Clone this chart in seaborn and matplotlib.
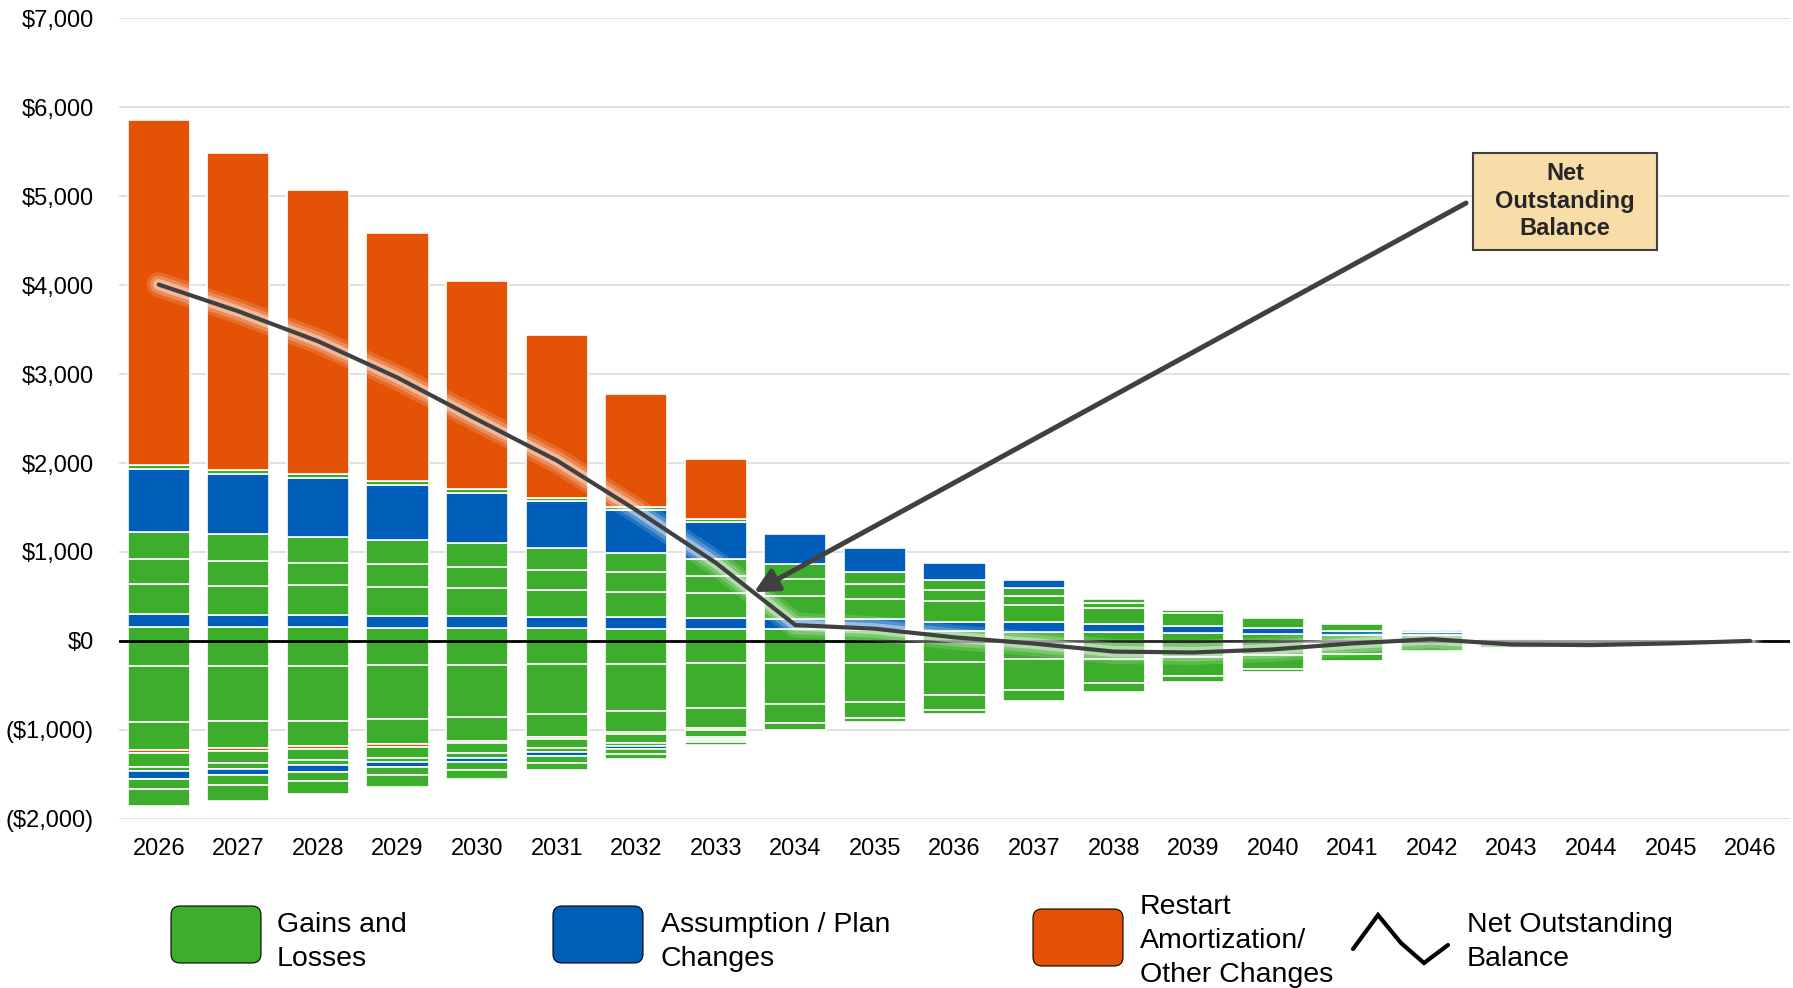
import numpy as np
import matplotlib
matplotlib.use("Agg")
import matplotlib.pyplot as plt
import matplotlib.patheffects as pe
from matplotlib.patches import FancyBboxPatch, Rectangle
from matplotlib.lines import Line2D
import seaborn as sns

# ---------------------------------------------------------------------------
# Data: outstanding balance of each amortization base by year ($ thousands)
# ---------------------------------------------------------------------------
years = [str(y) for y in range(2026, 2047)]

# Bases with positive balances, stacked upward from zero (bottom to top)
pos_gain_1 = [161, 154, 154, 142, 142, 142, 135, 135, 131, 124, 113, 105, 97, 90, 82, 71, 64, 26, 0, 0, 0]
pos_assum_1 = [142, 139, 139, 142, 135, 124, 131, 120, 116, 118, 98, 105, 90, 78, 67, 45, 34, 0, 0, 0, 0]
pos_gain_2 = [333, 326, 330, 326, 315, 307, 289, 281, 263, 233, 233, 190, 179, 146, 105, 75, 30, 0, 0, 0, 0]
pos_gain_3 = [285, 281, 258, 251, 243, 225, 218, 199, 184, 161, 131, 100, 64, 30, 0, 0, 0, 0, 0, 0, 0]
pos_gain_4 = [300, 300, 292, 273, 262, 243, 214, 188, 169, 143, 113, 90, 37, 0, 0, 0, 0, 0, 0, 0, 0]
pos_assum_2 = [717, 682, 653, 617, 568, 530, 480, 413, 337, 264, 186, 90, 0, 0, 0, 0, 0, 0, 0, 0, 0]
pos_gain_5 = [45, 45, 45, 45, 45, 40, 40, 40, 0, 0, 0, 0, 0, 0, 0, 0, 0, 0, 0, 0, 0]
pos_restart = [3873, 3558, 3194, 2786, 2333, 1833, 1268, 669, 0, 0, 0, 0, 0, 0, 0, 0, 0, 0, 0, 0, 0]

# Bases with negative balances, stacked downward from zero (top to bottom)
neg_gain_1 = [277, 277, 277, 270, 270, 258, 263, 251, 244, 244, 233, 206, 198, 183, 161, 142, 116, 82, 45, 28, 0]
neg_gain_2 = [637, 625, 618, 607, 581, 562, 522, 507, 469, 440, 375, 348, 280, 213, 153, 79, 0, 0, 0, 0, 0]
neg_gain_3 = [311, 303, 292, 281, 273, 262, 244, 225, 215, 180, 169, 116, 97, 67, 37, 0, 0, 0, 0, 0, 0]
neg_other = [37, 37, 30, 30, 26, 22, 20, 15, 0, 0, 0, 0, 0, 0, 0, 0, 0, 0, 0, 0, 0]
neg_gain_4 = [150, 131, 127, 131, 112, 101, 94, 80, 75, 50, 49, 0, 0, 0, 0, 0, 0, 0, 0, 0, 0]
neg_gain_5 = [45, 67, 56, 37, 56, 45, 38, 25, 0, 0, 0, 0, 0, 0, 0, 0, 0, 0, 0, 0, 0]
neg_assum_1 = [90, 64, 71, 67, 49, 49, 38, 10, 0, 0, 0, 0, 0, 0, 0, 0, 0, 0, 0, 0, 0]
neg_gain_6 = [120, 120, 101, 90, 82, 75, 53, 20, 0, 0, 0, 0, 0, 0, 0, 0, 0, 0, 0, 0, 0]
neg_gain_7 = [187, 172, 154, 135, 105, 82, 60, 35, 0, 0, 0, 0, 0, 0, 0, 0, 0, 0, 0, 0, 0]

# Net outstanding balance
net_balance = [4006, 3706, 3370, 2960, 2490, 2030, 1470, 878, 178, 137, 40, -30,
               -120, -130, -95, -28, 20, -40, -47, -28, 0]

y_ticks = [-2000, -1000, 0, 1000, 2000, 3000, 4000, 5000, 6000, 7000]

legend_labels = ["Gains and\nLosses", "Assumption / Plan\nChanges",
                 "Restart\nAmortization/\nOther Changes", "Net Outstanding\nBalance"]

GREEN = "#3DAE2B"
BLUE = "#005EB8"
ORANGE = "#E35205"
LINE_GRAY = "#404040"

# ---------------------------------------------------------------------------
sns.set_theme(style="white")
plt.rcParams["font.family"] = ["Liberation Sans", "DejaVu Sans"]

W_PX, H_PX = 1793, 988
fig = plt.figure(figsize=(W_PX / 100, H_PX / 100), dpi=100)
ax = fig.add_axes([119 / W_PX, 1 - 818.8 / H_PX, (1790 - 119) / W_PX, (818.8 - 18.3) / H_PX])

pos_layers = [(pos_gain_1, GREEN), (pos_assum_1, BLUE), (pos_gain_2, GREEN),
              (pos_gain_3, GREEN), (pos_gain_4, GREEN), (pos_assum_2, BLUE),
              (pos_gain_5, GREEN), (pos_restart, ORANGE)]
neg_layers = [(neg_gain_1, GREEN), (neg_gain_2, GREEN), (neg_gain_3, GREEN),
              (neg_other, ORANGE), (neg_gain_4, GREEN), (neg_gain_5, GREEN),
              (neg_assum_1, BLUE), (neg_gain_6, GREEN), (neg_gain_7, GREEN)]


def draw_stack(layers, sign):
    base = np.zeros(len(years))
    for vals, color in layers:
        vals = np.asarray(vals, dtype=float)
        idx = np.where(vals > 0)[0]
        heights = sign * vals
        if len(idx):
            sns.barplot(x=[years[i] for i in idx], y=heights[idx], order=years,
                        bottom=base[idx], color=color, saturation=1, width=0.78,
                        edgecolor="white", linewidth=1.2, errorbar=None,
                        ax=ax, zorder=2)
        base = base + heights


draw_stack(pos_layers, 1)
draw_stack(neg_layers, -1)

ax.axhline(0, color="black", lw=2.0, zorder=4)

glow = [pe.Stroke(linewidth=18, foreground="white", alpha=0.14),
        pe.Stroke(linewidth=13, foreground="white", alpha=0.22),
        pe.Stroke(linewidth=8, foreground="white", alpha=0.4),
        pe.Normal()]
sns.lineplot(x=years, y=net_balance, color=LINE_GRAY, lw=3.0, ax=ax, zorder=6,
             sort=False, path_effects=glow, solid_capstyle="round",
             solid_joinstyle="round")

ax.set_xlim(-0.5, len(years) - 0.5)
ax.set_ylim(-2000, 7000)
ax.set_yticks(y_ticks)
ax.set_yticklabels([f"${v:,.0f}" if v >= 0 else f"(${-v:,.0f})" for v in y_ticks])
ax.set_xlabel("")
ax.set_ylabel("")
ax.yaxis.grid(True, color="#D9D9D9", lw=1.1)
ax.xaxis.grid(False)
ax.set_axisbelow(True)
for s in ax.spines.values():
    s.set_visible(False)
ax.tick_params(axis="y", length=0, pad=18, labelsize=17, labelcolor="black")
ax.tick_params(axis="x", length=0, pad=14, labelsize=17, labelcolor="black")

# Callout box and arrow
ax.add_patch(Rectangle((0.8103, 0.7106), 0.9204 - 0.8103, 0.8317 - 0.7106,
                       transform=ax.transAxes, facecolor="#F9DDA9",
                       edgecolor=LINE_GRAY, lw=1.5, zorder=8))
ax.text(0.8653, 0.7712, "Net\nOutstanding\nBalance", transform=ax.transAxes,
        ha="center", va="center", fontsize=17, fontweight="bold",
        linespacing=1.25, zorder=9)
ax.annotate("", xy=(7.48, 548), xycoords=ax.transData,
            xytext=(0.8061, 0.7692), textcoords=ax.transAxes,
            arrowprops=dict(arrowstyle="-|>,head_length=0.6,head_width=0.3",
                            mutation_scale=24, lw=3.6, color=LINE_GRAY,
                            shrinkA=0, shrinkB=0),
            zorder=7)

# Legend along the bottom (positions in inches from figure lower-left)
def inch(px, py):
    return px / 100, (H_PX - py) / 100


tr = fig.dpi_scale_trans
swatches = [(171, 906, GREEN), (553, 906, BLUE), (1033, 909, ORANGE)]
for x0, y0, col in swatches:
    ix, iy = inch(x0, y0 + 57)
    fig.add_artist(FancyBboxPatch((ix, iy), 0.90, 0.57,
                                  boxstyle="round,pad=0,rounding_size=0.09",
                                  transform=tr, facecolor=col, edgecolor="black",
                                  lw=0.8))

zz_x = [1353, 1378, 1401, 1424, 1448]
zz_y = [949, 915, 943, 963, 945]
zz = [inch(a, b) for a, b in zip(zz_x, zz_y)]
fig.add_artist(Line2D([p[0] for p in zz], [p[1] for p in zz], transform=tr,
                      color="black", lw=3.0, solid_joinstyle="miter"))

text_pos = [(277, 942), (661, 942), (1140, 941), (1467, 942)]
for (tx, ty), lab in zip(text_pos, legend_labels):
    ix, iy = inch(tx, ty)
    fig.text(ix, iy, lab, transform=tr, ha="left", va="center", fontsize=20.5,
             linespacing=1.38, color="black")

fig.savefig("out.png", dpi=100)
